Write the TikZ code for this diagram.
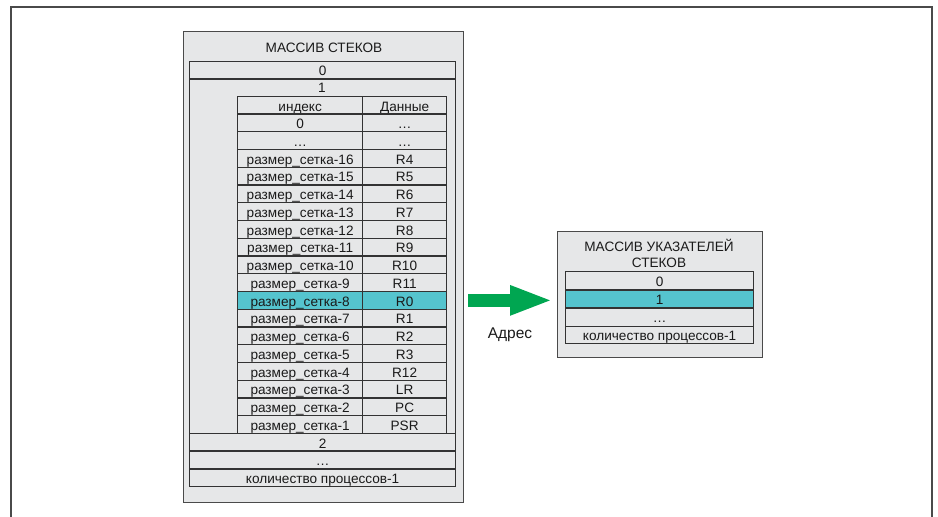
\documentclass[tikz,border=0pt]{standalone}
\usepackage{fontspec}
\setmainfont{Liberation Sans}
\usetikzlibrary{arrows.meta}
\definecolor{boxgray}{HTML}{E6E7E8}
\definecolor{linegray}{HTML}{333333}
\definecolor{framegray}{HTML}{4A4A4A}
\definecolor{hl}{HTML}{55C4CE}
\definecolor{arrgreen}{HTML}{00A651}
\definecolor{txt}{HTML}{1A1A1A}
\begin{document}
\begin{tikzpicture}[x=1pt,y=-1pt,
  font=\fontsize{13.6}{16}\selectfont, text=txt,
  cell/.style={draw=linegray, line width=1.3pt, fill=boxgray, inner sep=0pt, anchor=north west,
    minimum height=17.74pt, text height=11.6pt, text depth=0pt},
  panel/.style={draw=framegray, line width=1.2pt, fill=boxgray, inner sep=0pt, anchor=north west}]
\useasboundingbox (0,0) rectangle (938,517);
% outer frame
\draw[framegray, line width=2pt] (11,517) -- (11,7) -- (932,7) -- (932,517);
% big box
\node[panel, minimum width=280pt, minimum height=471pt] (big) at (183,31) {};
\node (bigtitle) at (324,48) {МАССИВ СТЕКОВ};
\node[cell, minimum width=266pt] (o0) at (189,60.5) {0};
\node[cell, minimum width=266pt, minimum height=354.5pt] (o1) at (189,78.2) {};
\node[text height=11.6pt, text depth=0pt, inner sep=0pt, minimum height=17.74pt] (o1lab) at (322,87.1) {1};
\foreach [count=\i from 0] \a/\b/\f in {индекс/Данные/boxgray, 0/…/boxgray, …/…/boxgray,
  размер\_сетка-16/R4/boxgray, размер\_сетка-15/R5/boxgray, размер\_сетка-14/R6/boxgray,
  размер\_сетка-13/R7/boxgray, размер\_сетка-12/R8/boxgray, размер\_сетка-11/R9/boxgray,
  размер\_сетка-10/R10/boxgray, размер\_сетка-9/R11/boxgray, размер\_сетка-8/R0/hl,
  размер\_сетка-7/R1/boxgray, размер\_сетка-6/R2/boxgray, размер\_сетка-5/R3/boxgray,
  размер\_сетка-4/R12/boxgray, размер\_сетка-3/LR/boxgray, размер\_сетка-2/PC/boxgray,
  размер\_сетка-1/PSR/boxgray}
{
  \node[cell, fill=\f, minimum width=125pt] (l\i) at (237,{95.7+\i*17.74}) {\a};
  \node[cell, fill=\f, minimum width=84pt] (r\i) at (362,{95.7+\i*17.74}) {\b};
}
\node[cell, minimum width=266pt] (o2) at (189,432.7) {2};
\node[cell, minimum width=266pt] (o3) at (189,450.5) {…};
\node[cell, minimum width=266pt] (o4) at (189,468.2) {количество процессов-1};
% pointer box
\node[panel, minimum width=205pt, minimum height=126pt] (ptr) at (556.5,230.5) {};
\node[align=center, inner sep=0pt] (ptrtitle) at (659,253) {МАССИВ УКАЗАТЕЛЕЙ\\[0pt]СТЕКОВ};
\node[cell, minimum width=188pt, minimum height=18.2pt] (p0) at (565,271) {0};
\node[cell, fill=hl, minimum width=188pt, minimum height=18.2pt] (p1) at (565,289.2) {1};
\node[cell, minimum width=188pt, minimum height=18.2pt] (p2) at (565,307.4) {…};
\node[cell, minimum width=188pt, minimum height=17pt, text height=11pt] (p3) at (565,325.6) {количество процессов-1};
% arrow
\draw[arrgreen, line width=12.5pt, -{Triangle[length=43pt,width=27pt]}, shorten <=4pt, shorten >=3.5pt]
  (big.east |- l11.center) -- (ptr.west |- l11.center);
\node[font=\fontsize{15.5}{18}\selectfont] (addr) at (510,335) {Адрес};
\end{tikzpicture}
\end{document}
